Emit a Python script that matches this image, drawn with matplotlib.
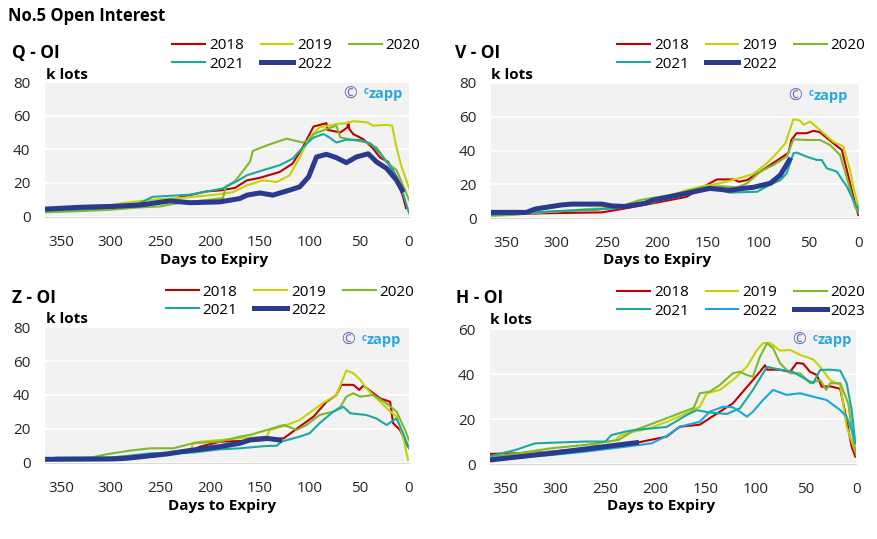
"""
No.5 Open Interest: four panels (Q, V, Z, H) of open interest in k lots
against days to expiry, one line per contract year.
"""

import matplotlib
matplotlib.use("Agg")
import matplotlib.pyplot as plt
from matplotlib.transforms import offset_copy

# ---- data: (days to expiry, k lots) ----
Q_2018 = [(366, 3), (340, 3.5), (300, 5), (270, 6.5), (250, 8), (237, 10), (230, 11.5), (203, 15),
          (190, 15.5), (175, 17), (163, 21.5), (150, 23), (130, 26.5), (117, 31.5), (107, 41),
          (96, 53.5), (83, 55.5), (82, 51.5), (69, 50), (62, 53), (61, 56), (60, 52), (56, 49),
          (46, 46), (37, 41), (29, 35), (21, 32.5), (12.5, 23.5), (6, 11.7), (3, 5)]
Q_2019 = [(366, 3), (340, 4), (300, 6.5), (288, 8), (258, 10), (230, 11), (194, 13), (177, 14.5),
          (163, 18.5), (147, 21.5), (133, 20.5), (120, 24.5), (110, 35), (100, 47), (90, 53),
          (73, 55), (63, 55.5), (56, 56.7), (42, 56), (36, 54), (22, 54.5), (17, 54), (12.5, 41),
          (7.5, 29.5), (0, 17)]
Q_2020 = [(366, 2.5), (340, 3), (300, 4), (271, 5.4), (250, 6), (237, 7.5), (200, 10), (187, 11),
          (184, 18), (175, 21), (160, 32.4), (157, 39), (143, 42.3), (123, 46.3), (107, 44),
          (101, 45.5), (96, 49), (83, 52), (73, 54), (69, 47), (56, 45.5), (42, 44), (32.5, 41),
          (22.5, 32.4), (12.5, 27.5), (4, 15.7), (0, 9.8)]
Q_2021 = [(366, 3.5), (320, 4.5), (288, 6.8), (271, 7.8), (258, 11.7), (220, 13), (187, 16.7),
          (173, 21), (163, 24.5), (147, 27.5), (130, 30.5), (117, 34.4), (107, 41), (96, 47),
          (86, 49), (80, 47), (73, 44), (63, 45.7), (49, 45.5), (39, 43.5), (29, 37.5), (16, 27.5),
          (7, 15.7), (0, 2)]
Q_2022 = [(366, 4.4), (330, 5.5), (300, 6), (271, 6.8), (240, 9.3), (220, 8.2), (190, 8.7),
          (170, 10.7), (163, 12.7), (150, 14), (137, 12.7), (120, 15.7), (110, 17.6), (101, 23.5),
          (93, 35.4), (83, 37), (73, 35), (63, 32), (53, 35.4), (41, 37.3), (32.5, 32.4),
          (22.5, 28.6), (12.5, 21.6), (7, 15.7)]

V_2018 = [(365, 2), (311, 3), (255, 3.5), (237, 5.3), (204, 8.9), (171, 12.7), (151, 19.7),
          (141, 23), (125, 23), (119, 21.6), (111, 22.6), (98, 27.6), (88, 31.5), (78, 35.5),
          (70, 38.7), (67, 46.3), (62, 50.3), (52, 50.3), (45, 51.7), (39, 51), (25.5, 44.4),
          (17, 40.4), (10.5, 24.6), (5.6, 12.7), (0.7, 2)]
V_2019 = [(365, 2), (300, 4), (270, 5.5), (237, 6.5), (204, 9.5), (171, 16.7), (155, 19),
          (138, 20.7), (121, 23.3), (105, 26.2), (91.5, 32.5), (81.6, 38.5), (73, 44.4), (65, 58.6),
          (58.5, 57.8), (55, 55.3), (48.6, 57.2), (38.7, 52.2), (25.5, 45.3), (15.5, 42.4),
          (9, 28.6), (5.6, 18.7), (0, 4.9)]
V_2020 = [(365, 1.5), (344, 2), (305, 4), (260, 5), (237, 7), (217, 10.8), (187, 13.8), (155, 18.3),
          (138, 19), (121, 18.3), (111, 20.7), (98, 27.6), (85, 31.5), (71.7, 36.5), (65, 46.7),
          (52, 46.3), (38.7, 46.3), (28.8, 43.4), (18.8, 37.5), (10.5, 20.7), (4, 6.9), (0, 3)]
V_2021 = [(365, 2), (311, 3.9), (255, 5.5), (237, 6), (204, 9.8), (171, 13.8), (148, 18.3),
          (128, 15.2), (101, 15.7), (91, 19), (78, 22.6), (71.7, 26.6), (65, 38.5), (62, 38.9),
          (52, 36.5), (42, 34.5), (37, 34.5), (32, 29.6), (22, 27.6), (12, 18.7), (5.6, 10.8),
          (0, 4.9)]
V_2022 = [(365, 3.5), (330, 3.5), (321, 5.5), (295, 7.9), (285, 8.4), (255, 8.4), (245, 7.3),
          (232, 7), (212, 8.9), (204, 10.8), (171, 14.8), (148, 17.7), (128, 16.5), (115, 17.7),
          (105, 18.3), (88, 20.7), (78, 25.6), (69, 34.5)]

Z_2018 = [(366, 2), (300, 2.5), (260, 4), (224, 6.1), (210, 9.5), (190, 12.4), (143, 13.4),
          (126, 14.4), (110, 21.3), (96, 27.2), (83, 36), (73, 40), (68, 46), (56, 46), (50, 43),
          (46, 45.5), (29, 38), (19, 36), (16, 23.3), (9, 19.3), (1, 9.5)]
Z_2019 = [(366, 2), (300, 3), (260, 5), (230, 7), (219, 8), (217, 11.8), (210, 12.4), (170, 14.4),
          (143, 15.4), (140, 19.3), (126, 21.7), (110, 25.2), (96, 31.2), (86, 35.5), (73, 40),
          (63, 54.5), (56, 52.9), (49, 49), (43, 44), (32.5, 38), (22.5, 32.2), (12.5, 27.2),
          (6, 15.4), (1, 1.6)]
Z_2020 = [(366, 2), (320, 3), (304, 5), (281, 7.1), (260, 8.5), (237, 8.5), (217, 11.5), (190, 12.5),
          (170, 15.4), (160, 16.4), (143, 19.3), (126, 22.3), (113, 19.3), (103, 22.3), (90, 28.2),
          (76, 30.2), (69, 33), (63, 39), (56, 41), (49, 39), (36, 40), (22.5, 35), (12.5, 30.2),
          (4, 19.3), (0, 13.4)]
Z_2021 = [(355, 3), (300, 3), (260, 5.5), (217, 6), (190, 7.9), (170, 8.5), (143, 9.9), (133, 10),
          (128, 12.5), (110, 15.4), (100, 17.4), (90, 23.3), (76, 30.2), (66, 33), (59, 29.2),
          (43, 28.2), (33, 26.2), (22.5, 22.3), (12.5, 26.2), (6, 17.4), (0, 8.5)]
Z_2022 = [(366, 2), (300, 2.2), (284, 2.6), (244, 5.1), (217, 7.5), (190, 9.5), (170, 11.5),
          (160, 13.4), (143, 14.4), (130, 13.4)]

H_2018 = [(365, 4.5), (337, 4.8), (304, 5.5), (255, 7.5), (237, 8), (222, 9.2), (189, 12.2),
          (176, 16.6), (156, 17.5), (146, 20.4), (136, 23.3), (123, 27), (113, 32.2), (103, 37.4),
          (96, 41.1), (91, 44), (89, 42), (76, 42), (66, 41), (59.4, 45), (53, 44.7), (46, 41),
          (39.5, 39.7), (34.5, 34.4), (26, 34.6), (16, 33.5), (11, 22.6), (4.6, 7.7), (1, 3.3)]
H_2019 = [(365, 3.5), (304, 5.5), (270, 6.5), (255, 9.5), (240, 10.5), (236, 12.5), (222, 14.4),
          (206, 15.9), (189, 18.8), (172, 22), (156, 25.5), (149, 31.5), (136, 33), (123, 37.4),
          (109, 43.3), (99, 50.8), (93, 53.8), (86, 54), (76, 50.5), (66, 50.8), (56, 48.6),
          (43, 46.6), (36, 43.3), (26, 37.4), (16, 35.2), (9.6, 16.6), (1, 5.5)]
H_2020 = [(365, 3), (337, 4.8), (304, 7), (270, 8.5), (237, 10.7), (222, 14.8), (189, 20.4),
          (172, 23.3), (162, 25), (156, 31.5), (146, 32.2), (136, 35.2), (123, 40.4), (116, 41.1),
          (109, 39.6), (103, 38.9), (96, 47.8), (89, 53.8), (83, 51.6), (76, 44.9), (66, 40.4),
          (56, 40.4), (46, 36), (36, 37.4), (30, 33), (26, 36), (16, 36), (8, 27), (3, 10.7),
          (0, 4)]
H_2021 = [(365, 3.5), (340, 6.2), (320, 9.2), (270, 10), (250, 10), (244, 12.9), (230, 14.4),
          (222, 15.1), (189, 16.5), (169, 21.8), (159, 24), (146, 22.9), (129, 22.3), (116, 24.8),
          (103, 33), (89, 43.3), (76, 42), (63, 41), (49, 37.4), (43, 36), (36, 41.9), (26, 42),
          (16, 41.6), (9.6, 36), (4.6, 24), (1, 9.2)]
H_2022 = [(365, 2.5), (304, 4), (270, 5.5), (230, 7.7), (204, 9.2), (189, 12.5), (176, 16.6),
          (156, 18.8), (146, 23.3), (132.6, 25.5), (123, 25.3), (116, 23.3), (109, 21.1),
          (103, 23.3), (93, 28.5), (83, 33), (69.5, 30.8), (56, 31.5), (43, 30), (29.5, 28.5),
          (16, 24), (9.6, 21), (4.6, 15), (1, 10.7)]
H_2023 = [(365, 1.8), (304, 4.8), (237, 8.5), (219, 9.5)]

YEARS_5 = ["2018", "2019", "2020", "2021", "2022"]
YEARS_6 = ["2018", "2019", "2020", "2021", "2022", "2023"]

# ---- styling ----
RED, YELLOW, GREEN, TEAL, NAVY, SKY = "#c00000", "#c5d400", "#7fb82a", "#1aa9a0", "#2a3a8c", "#19a7e0"
COLS_5 = [RED, YELLOW, GREEN, TEAL, NAVY]
COLS_6 = [RED, YELLOW, GREEN, TEAL, SKY, NAVY]
THIN, THICK = 1.5, 3.6

plt.rcParams["font.family"] = ["Open Sans", "DejaVu Sans"]

W, H = 877, 539
fig = plt.figure(figsize=(W / 100, H / 100), dpi=100)


def fx(px):
    return px / W


def fy(py):
    return 1 - py / H


def make_axes(x0, x1, ytop, ybot):
    return fig.add_axes([fx(x0), fy(ybot), fx(x1) - fx(x0), fy(ytop) - fy(ybot)])


def draw_panel(ax, series, years, colours, xmax, ymax, title, title_xy, klots_xy,
               legend_xy, xlabel_xy, mark_xy):
    ax.set_facecolor("#f2f2f2")
    for i, (pts, yr, c) in enumerate(zip(series, years, colours)):
        days = [p[0] for p in pts]
        vals = [p[1] for p in pts]
        lw = THICK if i == len(series) - 1 else THIN
        ax.plot(days, vals, color=c, lw=lw, label=yr, solid_joinstyle="round", zorder=3 + (i == len(series) - 1))
    ax.set_xlim(xmax, 0)
    ax.set_ylim(0, ymax)
    ax.set_xticks([350, 300, 250, 200, 150, 100, 50, 0])
    ax.set_yticks(range(0, ymax + 1, 20))
    ax.grid(axis="y", color="white", lw=1.3)
    ax.set_axisbelow(True)
    for s in ["top", "right", "left"]:
        ax.spines[s].set_visible(False)
    ax.spines["bottom"].set_color("#d9d9d9")
    ax.tick_params(length=0, labelsize=11, colors="#262626")
    ax.tick_params(axis="x", pad=13)
    ax.tick_params(axis="y", pad=10.5)

    # legend laid out row-wise like the original
    handles, labels = ax.get_legend_handles_labels()
    n = len(handles)
    order = [0, 3, 1, 4, 2] if n == 5 else [0, 3, 1, 4, 2, 5]
    ax.legend([handles[k] for k in order], [labels[k] for k in order], ncol=3,
              loc="center left", bbox_to_anchor=(fx(legend_xy[0]), fy(legend_xy[1])),
              bbox_transform=fig.transFigure, frameon=False, fontsize=11,
              handlelength=2.15, handletextpad=0.25, columnspacing=1.1,
              labelspacing=0.2, borderpad=0, borderaxespad=0)

    fig.text(fx(title_xy[0]), fy(title_xy[1]), title, fontsize=12.5, fontweight="bold",
             ha="left", va="center")
    fig.text(fx(klots_xy[0]), fy(klots_xy[1]), "k lots", fontsize=11, fontweight="bold",
             ha="left", va="center")
    fig.text(fx(xlabel_xy[0]), fy(xlabel_xy[1]), "Days to Expiry", fontsize=11,
             fontweight="bold", ha="center", va="center")

    # (c) czapp mark
    ax.text(mark_xy[0], mark_xy[1], "\u00a9", transform=ax.transAxes, fontsize=12,
            color="#6a70b4", ha="center", va="baseline")
    t_c = offset_copy(ax.transAxes, fig=fig, x=13.5, y=4.5, units="dots")
    ax.text(mark_xy[0], mark_xy[1], "c", transform=t_c, fontsize=7, fontweight="bold",
            color="#29a8e0", ha="left", va="baseline")
    t_z = offset_copy(ax.transAxes, fig=fig, x=18.5, y=1, units="dots")
    ax.text(mark_xy[0], mark_xy[1], "zapp", transform=t_z, fontsize=10.5, fontweight="bold",
            color="#29a8e0", ha="left", va="baseline")


fig.text(fx(8), fy(16), "No.5 Open Interest", fontsize=12, fontweight="bold",
         ha="left", va="center")

ax_q = make_axes(45, 409, 82, 216.5)
draw_panel(ax_q, [Q_2018, Q_2019, Q_2020, Q_2021, Q_2022], YEARS_5, COLS_5, 366, 80,
           "Q - OI", (12.5, 53), (45.5, 75), (172.3, 55), (214.5, 260), (0.838, 0.877))

ax_v = make_axes(491, 859, 83, 218.3)
draw_panel(ax_v, [V_2018, V_2019, V_2020, V_2021, V_2022], YEARS_5, COLS_5, 365, 80,
           "V - OI", (455, 53), (491, 75), (617.3, 55), (657, 260), (0.827, 0.867))

ax_z = make_axes(45, 409, 327.3, 462.7)
draw_panel(ax_z, [Z_2018, Z_2019, Z_2020, Z_2021, Z_2022], YEARS_5, COLS_5, 366, 80,
           "Z - OI", (12, 298.3), (45.5, 319.3), (166, 301.2), (222, 505.7), (0.832, 0.867))

ax_h = make_axes(490, 856.3, 329.3, 464)
draw_panel(ax_h, [H_2018, H_2019, H_2020, H_2021, H_2022, H_2023], YEARS_6, COLS_6, 365, 60,
           "H - OI", (456, 298.3), (490, 320), (617.3, 302), (661, 505.7), (0.843, 0.883))

fig.savefig("out.png", dpi=100)
